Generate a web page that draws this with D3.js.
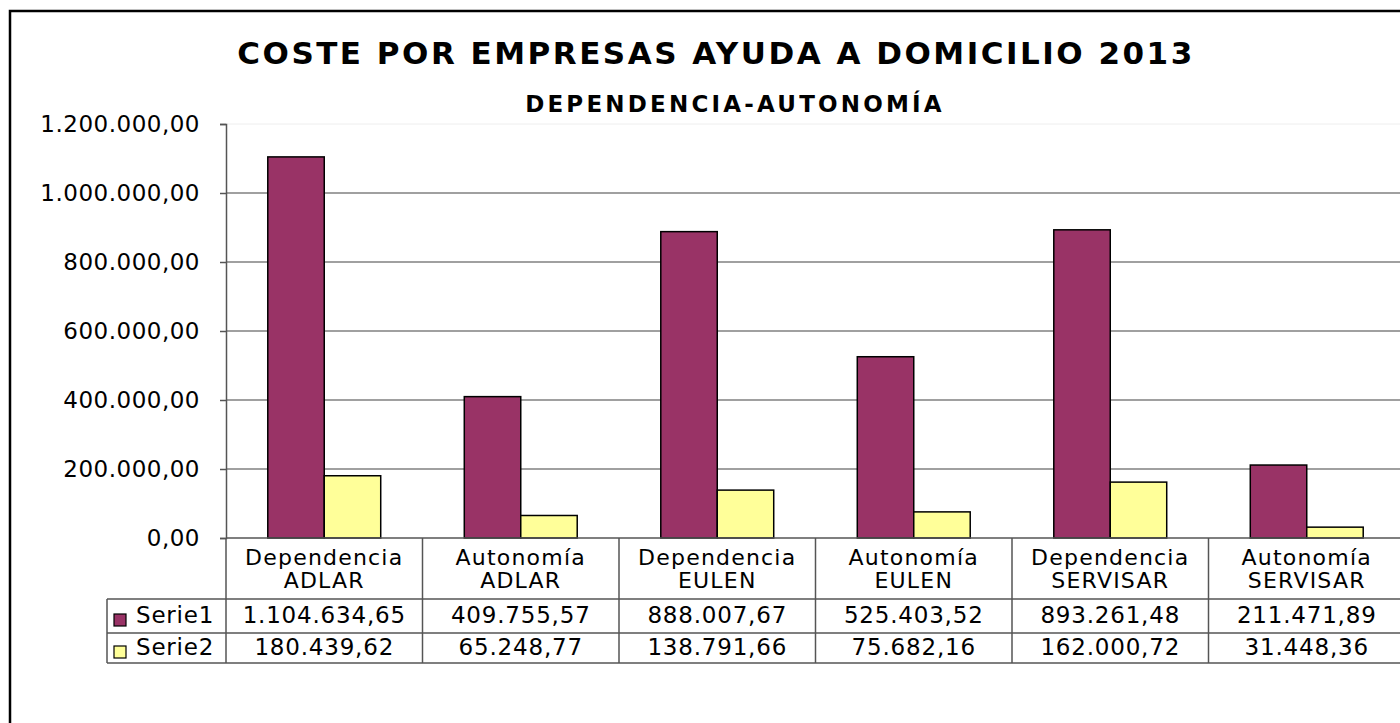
<!DOCTYPE html>
<html>
<head>
<meta charset="utf-8">
<script src="https://cdn.jsdelivr.net/npm/d3@7"></script>
<style>
  body { margin: 0; background: #fff; }
  text { font-family: "DejaVu Sans", Verdana, sans-serif; fill: #000; }
</style>
</head>
<body>
<div id="chart-area"></div>
<script>
// datos
var categorias = ["Dependencia ADLAR", "Autonomía ADLAR", "Dependencia EULEN", "Autonomía EULEN", "Dependencia SERVISAR", "Autonomía SERVISAR"]
var serie1 = [1104634.65, 409755.57, 888007.67, 525403.52, 893261.48, 211471.89]
var serie2 = [180439.62, 65248.77, 138791.66, 75682.16, 162000.72, 31448.36]
var series = ["Serie1", "Serie2"]
var colores = ["#993366", "#FFFF99"]
var yTicks = [0, 200000, 400000, 600000, 800000, 1000000, 1200000]

var es = d3.formatLocale({ decimal: ",", thousands: ".", grouping: [3], currency: ["", "€"] })
var fmt = es.format(",.2f")

var width = 1400, height = 723

var svg = d3.select("#chart-area").append("svg")
  .attr("width", width)
  .attr("height", height)

// marco
svg.append("rect")
  .attr("x", 10).attr("y", 11)
  .attr("width", 1430).attr("height", 760)
  .attr("fill", "none").attr("stroke", "#000").attr("stroke-width", 2.5)

svg.append("text")
  .attr("x", 716).attr("y", 64)
  .attr("text-anchor", "middle")
  .attr("font-size", 31).attr("font-weight", "bold")
  .attr("letter-spacing", 2.5)
  .text("COSTE POR EMPRESAS AYUDA A DOMICILIO 2013")

svg.append("text")
  .attr("x", 735).attr("y", 112)
  .attr("text-anchor", "middle")
  .attr("font-size", 23).attr("font-weight", "bold")
  .attr("letter-spacing", 3.2)
  .text("DEPENDENCIA-AUTONOMÍA")

var left = 226, right = 1405, plotTop = 124, bottom = 538

var x = d3.scaleBand()
  .domain(categorias)
  .range([left, right])

var xs = d3.scaleBand()
  .domain(series)
  .range([0, x.bandwidth()])
  .paddingOuter(0.74)

var y = d3.scaleLinear()
  .domain([0, 1200000])
  .range([bottom, plotTop])

// rejilla
svg.selectAll(".grid")
  .data(yTicks.filter(function (d) { return d > 0 }))
  .enter().append("line")
  .attr("x1", left).attr("x2", right)
  .attr("y1", function (d) { return y(d) }).attr("y2", function (d) { return y(d) })
  .attr("stroke", function (d) { return d == 1200000 ? "#eeeeee" : "#808080" })
  .attr("stroke-width", function (d) { return d == 1200000 ? 1 : 1.5 })

var yAxis = d3.axisLeft(y)
  .tickValues(yTicks)
  .tickFormat(fmt)
  .tickSize(6)
  .tickPadding(20)

var gy = svg.append("g")
  .attr("transform", "translate(" + left + ",0)")
  .call(yAxis)
gy.select(".domain").attr("stroke", "#555").attr("stroke-width", 1.5)
gy.selectAll(".tick line").attr("stroke", "#555").attr("stroke-width", 1.5)
gy.selectAll(".tick text")
  .attr("font-size", 23)
  .attr("letter-spacing", 0.5)
  .attr("font-family", "DejaVu Sans, Verdana, sans-serif")
  .attr("fill", "#000")

// barras
var data = categorias.map(function (c, i) {
  return { cat: c, valores: [serie1[i], serie2[i]] }
})

var grupos = svg.selectAll(".grupo")
  .data(data)
  .enter().append("g")
  .attr("transform", function (d) { return "translate(" + x(d.cat) + ",0)" })

grupos.selectAll("rect")
  .data(function (d) { return d.valores.map(function (v, j) { return { s: series[j], v: v, j: j } }) })
  .enter().append("rect")
  .attr("x", function (d) { return xs(d.s) })
  .attr("width", xs.bandwidth())
  .attr("y", function (d) { return y(d.v) })
  .attr("height", function (d) { return bottom - y(d.v) })
  .attr("fill", function (d) { return colores[d.j] })
  .attr("stroke", "#000")
  .attr("stroke-width", 1.5)

// tabla de datos
var filaCab = 599, fila1 = 633, fila2 = 663, tablaIzq = 107
var lineas = svg.append("g").attr("stroke", "#555").attr("stroke-width", 1.5)

lineas.append("line").attr("x1", left).attr("x2", right).attr("y1", bottom).attr("y2", bottom)
;[filaCab, fila1, fila2].forEach(function (yy) {
  lineas.append("line").attr("x1", tablaIzq).attr("x2", right).attr("y1", yy).attr("y2", yy)
})
lineas.append("line").attr("x1", tablaIzq).attr("x2", tablaIzq).attr("y1", filaCab).attr("y2", fila2)
categorias.forEach(function (c) {
  lineas.append("line").attr("x1", x(c) + x.bandwidth()).attr("x2", x(c) + x.bandwidth())
    .attr("y1", bottom).attr("y2", fila2)
})
lineas.append("line").attr("x1", left).attr("x2", left).attr("y1", bottom).attr("y2", fila2)

// cabeceras
var cab = svg.selectAll(".cab")
  .data(categorias)
  .enter().append("text")
  .attr("text-anchor", "middle")
  .attr("font-size", 22)
  .attr("letter-spacing", 1.2)
cab.each(function (d) {
  var partes = d.split(" ")
  var t = d3.select(this)
  partes.forEach(function (p, k) {
    t.append("tspan")
      .attr("x", x(d) + x.bandwidth() / 2)
      .attr("y", 565 + k * 23)
      .text(p)
  })
})

// filas
;[serie1, serie2].forEach(function (vals, j) {
  var yy = j == 0 ? 623 : 655
  svg.selectAll(".val" + j)
    .data(vals)
    .enter().append("text")
    .attr("x", function (d, i) { return x(categorias[i]) + x.bandwidth() / 2 })
    .attr("y", yy)
    .attr("text-anchor", "middle")
    .attr("font-size", 23)
    .attr("letter-spacing", 0.8)
    .text(function (d) { return fmt(d) })

  svg.append("rect")
    .attr("x", 114).attr("y", yy - 9)
    .attr("width", 12).attr("height", 12)
    .attr("fill", colores[j]).attr("stroke", "#000").attr("stroke-width", 1.2)
  svg.append("text")
    .attr("x", 136).attr("y", yy)
    .attr("font-size", 23)
    .attr("letter-spacing", 0.8)
    .text(series[j])
})
</script>
</body>
</html>
